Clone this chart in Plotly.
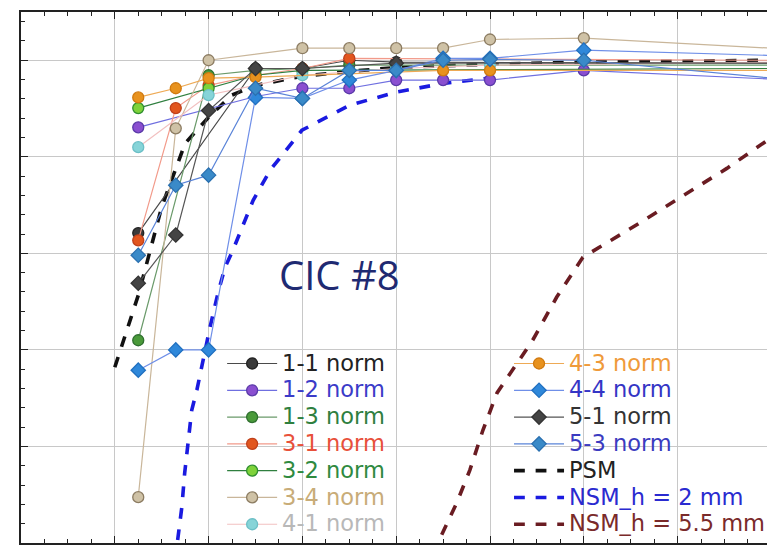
import plotly.graph_objects as go

# ---- measured series (normalised capacity vs. length) ----
x_11 = [25, 50, 60, 70, 80, 160]
y_11 = [0.642, 0.983, 0.983, 1.000, 0.996, 0.994]

x_12 = [25, 50, 60, 70, 80, 90, 100, 120, 160]
y_12 = [0.861, 0.925, 0.942, 0.942, 0.959, 0.959, 0.959, 0.979, 0.961]

x_13 = [25, 40, 50, 60, 70, 80, 160]
y_13 = [0.420, 0.969, 0.979, 0.983, 0.990, 0.990, 0.990]

x_31 = [25, 33, 40, 50, 60, 70, 160]
y_31 = [0.627, 0.901, 0.948, 0.969, 0.983, 1.004, 1.000]

x_32 = [25, 40, 50, 60, 160]
y_32 = [0.901, 0.942, 0.969, 0.979, 0.983]

x_34 = [25, 33, 40, 60, 70, 80, 90, 100, 120, 160]
y_34 = [0.095, 0.859, 1.000, 1.025, 1.025, 1.025, 1.025, 1.043, 1.046, 1.025]

x_41 = [25, 40, 60, 80, 100, 160]
y_41 = [0.820, 0.928, 0.969, 0.983, 0.990, 0.996]

x_43 = [25, 33, 40, 50, 90, 100, 160]
y_43 = [0.923, 0.942, 0.963, 0.965, 0.979, 0.979, 0.979]

x_44 = [25, 33, 40, 50, 60, 70, 80, 90, 100, 120, 160]
y_44 = [0.358, 0.400, 0.400, 0.923, 0.921, 0.959, 0.979, 1.004, 1.004, 1.021, 1.010]

x_51 = [25, 33, 40, 50, 60, 80, 160]
y_51 = [0.538, 0.638, 0.896, 0.983, 0.983, 0.994, 0.994]

x_53 = [25, 33, 40, 50, 60, 70, 80, 90, 100, 120, 160]
y_53 = [0.596, 0.741, 0.762, 0.942, 0.921, 0.979, 0.979, 1.000, 1.002, 1.000, 0.963]

# ---- model curves ----
x_psm = [20, 25, 30, 35, 40, 45, 50, 60, 70, 80, 100, 120, 160]
y_psm = [0.364, 0.513, 0.696, 0.828, 0.882, 0.928, 0.948, 0.967, 0.977, 0.985, 0.992, 0.996, 1.000]

x_nsm2 = [33.4, 34.3, 34.9, 35.6, 36.4, 37.5, 38.8, 40.3, 42.0, 43.5, 45.2, 49.5, 53.1, 59.9, 70.1, 80.1, 90.0, 100]
y_nsm2 = [0.006, 0.075, 0.145, 0.213, 0.275, 0.317, 0.379, 0.447, 0.518, 0.571, 0.607, 0.710, 0.772, 0.855, 0.907, 0.934, 0.952, 0.963]

x_nsm55 = [89.7, 92.9, 95.7, 98.5, 101.5, 109.1, 114.2, 119.8, 130.4, 140.5, 150.5, 160]
y_nsm55 = [0.017, 0.083, 0.151, 0.234, 0.311, 0.420, 0.509, 0.592, 0.654, 0.716, 0.776, 0.840]

# name, x, y, line colour, marker fill, marker edge, symbol, label colour, legend
measured = [
    ("1-1 norm", x_11, y_11, "#4a4a4a", "#3a3a3a", "#222222", "circle", "#222222", "legend"),
    ("1-2 norm", x_12, y_12, "#6f6fe0", "#8a4fd0", "#5a3aa8", "circle", "#3b3bc8", "legend"),
    ("1-3 norm", x_13, y_13, "#6a9a6a", "#4a9a3a", "#2f6f2f", "circle", "#2f7f3f", "legend"),
    ("3-1 norm", x_31, y_31, "#f29a8a", "#e2561e", "#c0401a", "circle", "#e8503a", "legend"),
    ("3-2 norm", x_32, y_32, "#2f7f3f", "#7ed23a", "#2f8f2f", "circle", "#2f8a3f", "legend"),
    ("3-4 norm", x_34, y_34, "#c9b69a", "#cfc2a6", "#8c7c62", "circle", "#c8ac78", "legend"),
    ("4-1 norm", x_41, y_41, "#f2c0c0", "#86d4d8", "#6cbfc6", "circle", "#b8b8b8", "legend"),
    ("4-3 norm", x_43, y_43, "#eeaa55", "#e8921e", "#d07a10", "circle", "#ef9a3a", "legend2"),
    ("4-4 norm", x_44, y_44, "#6f8fe8", "#2f88da", "#2070c0", "diamond", "#3535c5", "legend2"),
    ("5-1 norm", x_51, y_51, "#555555", "#444444", "#333333", "diamond", "#333333", "legend2"),
    ("5-3 norm", x_53, y_53, "#5a84d8", "#3a8ac8", "#2a70b0", "diamond", "#3b3bc0", "legend2"),
]

models = [
    ("PSM", x_psm, y_psm, "#111111", "#222222"),
    ("NSM_h = 2 mm", x_nsm2, y_nsm2, "#1a1ae0", "#2a2ad0"),
    ("NSM_h = 5.5 mm", x_nsm55, y_nsm55, "#6a1c22", "#7a2a2a"),
]

fig = go.Figure()

# model curves first so the markers sit above them
for name, xs, ys, col, tcol in models:
    fig.add_trace(go.Scatter(
        x=xs, y=ys, mode="lines", legend="legend2", legendrank=900,
        name=f"<span style='font-size:22.5px;color:{tcol}'>{name}</span>",
        line=dict(color=col, width=3.6, dash="dash"),
        cliponaxis=True,
    ))

for i, (name, xs, ys, lcol, mfill, medge, sym, tcol, leg) in enumerate(measured):
    fig.add_trace(go.Scatter(
        x=xs, y=ys, mode="lines+markers", legend=leg, legendrank=100 + i,
        name=f"<span style='font-size:22.5px;color:{tcol}'>{name}</span>",
        line=dict(color=lcol, width=1.2),
        marker=dict(symbol=sym, size=11,
                    color=mfill, line=dict(color=medge, width=1.3)),
        cliponaxis=False,
    ))

axis_common = dict(
    showticklabels=False, ticks="inside", ticklen=7, tickwidth=1, tickcolor="#222",
    showline=True, linecolor="#222", linewidth=1.5,
    showgrid=True, gridcolor="#c8c8c8", gridwidth=1.2,
    zeroline=False,
)

fig.update_xaxes(range=[0, 159.06], dtick=20, tick0=0, mirror="allticks",
                 minor=dict(dtick=5, ticklen=4, tickcolor="#222", ticks="inside", showgrid=False),
                 **axis_common)
fig.update_yaxes(range=[0, 1.1], dtick=0.2, tick0=0, mirror=False,
                 minor=dict(dtick=0.04, ticklen=4, tickcolor="#222", ticks="inside", showgrid=False),
                 **axis_common)

legend_style = dict(
    bgcolor="rgba(0,0,0,0)", borderwidth=0, itemwidth=50,
    font=dict(family="DejaVu Sans", size=18.3, color="#222"),
    xanchor="left", yanchor="top", traceorder="normal",
    itemclick=False,
)

fig.update_layout(
    width=767, height=545,
    margin=dict(l=21, r=0, t=12, b=2, autoexpand=False),
    paper_bgcolor="white", plot_bgcolor="white",
    showlegend=True,
    legend=dict(x=0.2696, y=0.3727, **legend_style),
    legend2=dict(x=0.6542, y=0.3727, **legend_style),
    annotations=[dict(
        text="CIC #8", xref="paper", yref="paper", x=0.343, y=0.506,
        xanchor="left", yanchor="middle", showarrow=False,
        font=dict(family="Open Sans", size=40, color="#1f2a72"),
    )],
)

fig.write_html("out.html")
